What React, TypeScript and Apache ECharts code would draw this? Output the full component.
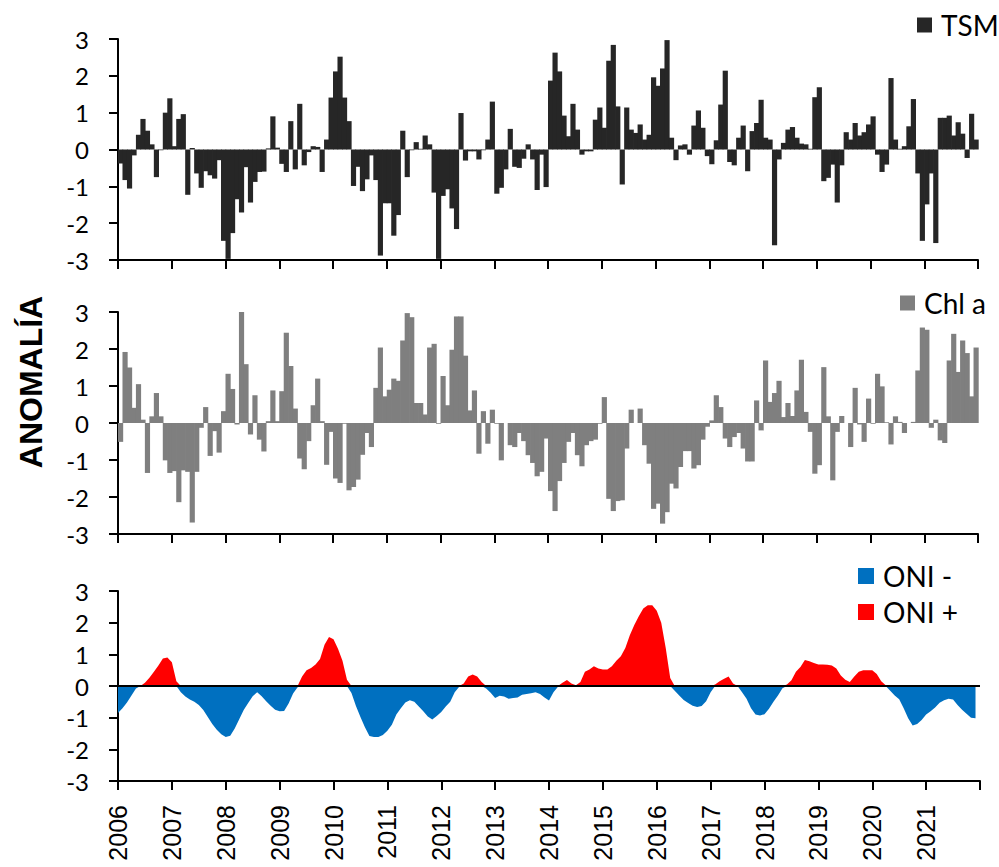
import React, { useEffect, useRef } from 'react';
import * as echarts from 'echarts';

const START_YEAR = 2006;
const N_MONTHS = 192;

// Monthly anomalies, Jan 2006 .. Dec 2021 (one row per year)
const TSM = [
  -0.38, -0.83, -1.06, -0.16, 0.4, 0.83, 0.51, 0.14, -0.75, -0.02, 1.0, 1.39,
  0.09, 0.83, 0.96, -1.23, 0.04, -0.65, -1.04, -0.59, -0.7, -0.79, -0.29, -2.48,
  -2.97, -2.27, -1.35, -1.71, -0.48, -1.44, -0.88, -0.61, -0.6, 0.03, 0.9, 0.05,
  -0.39, -0.61, 0.77, -0.54, 1.24, -0.43, -0.07, 0.09, 0.07, -0.61, 0.27, 1.41,
  2.12, 2.52, 1.41, 0.77, -0.99, -0.47, -1.13, -0.81, -0.16, -0.83, -2.88, -1.46,
  -1.46, -2.34, -1.78, 0.51, -0.75, -0.02, 0.2, 0.02, 0.38, 0.14, -1.17, -2.97,
  -1.26, -1.08, -1.6, -2.16, 0.99, -0.3, -0.05, -0.05, -0.27, -0.02, 0.27, 1.3,
  -1.2, -1.04, -0.54, 0.56, -0.47, -0.5, -0.25, 0.14, -0.27, -1.1, -0.14, -1.02,
  1.87, 2.63, 2.12, 0.92, 0.36, 1.24, 0.54, -0.14, -0.05, -0.05, 0.81, 1.14,
  0.59, 2.41, 2.84, 1.17, -0.95, 1.14, 0.54, 0.45, 0.68, 0.27, 0.4, 1.96,
  1.73, 2.2, 2.97, 0.32, -0.29, 0.11, 0.14, -0.14, 0.65, 1.06, 0.59, -0.18,
  -0.4, 0.25, 1.22, 2.14, -0.34, -0.43, 0.32, 0.65, -0.59, 0.5, 0.72, 1.35,
  0.32, 0.27, -2.6, -0.27, 0.18, 0.54, 0.61, 0.32, 0.16, 0.14, 0.02, 1.42,
  1.69, -0.86, -0.77, -0.41, -1.44, -0.43, 0.47, 0.27, 0.72, 0.38, 0.47, 0.68,
  0.9, -0.14, -0.61, -0.41, 1.94, 0.27, 0.02, 0.09, 0.63, 1.37, -0.65, -2.48,
  -1.49, -0.65, -2.54, 0.86, 0.86, 0.92, 0.38, 0.74, 0.43, -0.23, 0.97, 0.27,
];

const CHL = [
  -0.51, 1.92, 1.5, 0.41, 1.05, 0.09, -1.35, 0.18, 0.81, 0.18, -1.01, -1.35,
  -1.3, -2.14, -1.28, -1.32, -2.69, -1.32, -0.13, 0.43, -0.89, -0.22, -0.8, 0.32,
  1.33, 0.92, -0.04, 3.0, 1.59, -0.31, 0.75, -0.45, -0.77, 0.05, 0.88, 0.05,
  0.86, 2.44, 1.54, 0.39, -0.96, -1.25, -0.49, 0.48, 1.2, 0.05, -1.13, -0.24,
  -1.5, -1.62, -0.02, -1.82, -1.73, -1.53, -0.86, -0.27, -0.65, 0.95, 2.04, 0.72,
  0.9, 1.2, 1.14, 2.23, 2.97, 2.86, 0.54, 0.54, 0.23, 2.04, 2.14, -0.02,
  1.27, 0.48, 1.98, 2.88, 2.88, 1.82, 0.34, 0.88, -0.83, 0.32, -0.56, 0.36,
  -0.02, -1.01, 0.0, -0.6, -0.65, -0.27, -0.49, -0.87, -1.08, -1.44, -1.32, -0.42,
  -1.84, -2.38, -1.57, -1.08, -0.51, -0.27, -0.87, -1.17, -0.6, -0.49, -0.45, -0.02,
  0.7, -2.05, -2.38, -2.11, -2.09, -0.69, 0.36, 0.0, 0.39, -0.6, -1.1, -2.32,
  -2.18, -2.72, -2.41, -1.64, -1.77, -1.19, -0.76, -0.76, -1.23, -1.14, -0.45, -0.1,
  0.07, 0.75, 0.43, -0.42, -0.65, -0.38, -0.27, -0.69, -1.04, -1.04, 0.61, -0.2,
  1.69, 0.57, 0.81, 1.14, 0.16, 0.54, 0.19, 0.88, 1.71, 0.3, -0.24, -1.37,
  -1.14, 1.51, 0.18, -1.55, -0.24, 0.19, 0.0, -0.65, 0.95, -0.04, -0.51, 0.66,
  -0.02, 1.33, 0.99, 0.02, -0.58, 0.18, 0.03, -0.27, 0.0, 0.03, 1.42, 2.58,
  2.52, -0.13, 0.09, -0.47, -0.54, 1.69, 2.41, 1.38, 2.23, 1.89, 0.72, 2.04,
];

const ONI = [
  -0.85, -0.7, -0.52, -0.3, -0.08, 0.0, 0.1, 0.26, 0.45, 0.65, 0.87, 0.9,
  0.75, 0.15, -0.2, -0.33, -0.43, -0.5, -0.6, -0.76, -0.98, -1.2, -1.38, -1.52,
  -1.61, -1.57, -1.34, -1.05, -0.76, -0.54, -0.32, -0.2, -0.32, -0.48, -0.62, -0.75,
  -0.8, -0.79, -0.55, -0.24, -0.04, 0.3, 0.5, 0.57, 0.68, 0.85, 1.3, 1.55,
  1.48, 1.18, 0.8, 0.2, -0.22, -0.63, -0.98, -1.3, -1.58, -1.61, -1.61, -1.55,
  -1.41, -1.22, -0.9, -0.7, -0.52, -0.45, -0.5, -0.65, -0.8, -0.96, -1.06, -0.95,
  -0.82, -0.65, -0.5, -0.2, -0.02, 0.08, 0.3, 0.36, 0.3, 0.13, -0.08, -0.21,
  -0.38, -0.31, -0.33, -0.4, -0.38, -0.36, -0.28, -0.25, -0.23, -0.2, -0.25, -0.36,
  -0.46, -0.2, -0.02, 0.1, 0.19, 0.08, 0.02, 0.13, 0.45, 0.52, 0.62, 0.55,
  0.52, 0.52, 0.62, 0.8, 0.94, 1.2, 1.6, 1.93, 2.2, 2.45, 2.55, 2.55,
  2.38, 2.0, 1.2, 0.25, -0.15, -0.3, -0.44, -0.54, -0.62, -0.66, -0.63, -0.48,
  -0.2, 0.05, 0.15, 0.23, 0.3, 0.08, 0.0, -0.2, -0.4, -0.7, -0.9, -0.93,
  -0.89, -0.72, -0.5, -0.3, -0.07, 0.05, 0.18, 0.45, 0.6, 0.82, 0.78, 0.73,
  0.68, 0.68, 0.67, 0.65, 0.55, 0.33, 0.2, 0.13, 0.3, 0.45, 0.5, 0.5,
  0.5, 0.38, 0.15, 0.02, -0.15, -0.3, -0.42, -0.7, -1.02, -1.25, -1.2, -1.07,
  -0.9, -0.8, -0.68, -0.53, -0.45, -0.4, -0.43, -0.6, -0.75, -0.88, -1.0, -1.02,
];

const Y_MIN = -3;
const Y_MAX = 3;
const Y_STEP = 1;

const LABEL_FONT = 'Lato, "Open Sans", sans-serif';
const YEAR_FONT = '"Liberation Sans", Arial, sans-serif';

export default function App() {
  const ref = useRef<HTMLDivElement>(null);

  useEffect(() => {
    if (!ref.current) return;
    const chart = echarts.init(ref.current, undefined, { renderer: 'svg' });

    const grids = [
      { left: 118, top: 39, width: 860, height: 221 },
      { left: 118, top: 312, width: 860, height: 222 },
      { left: 118, top: 591, width: 862, height: 190 },
    ];

    const xAxes = grids.map((_, i) => ({
      type: 'value',
      gridIndex: i,
      min: 0,
      max: N_MONTHS,
      interval: 12,
      splitLine: { show: false },
      axisLine: { show: true, onZero: false, lineStyle: { color: '#000', width: 2 } },
      axisTick: { show: true, inside: false, length: 9, lineStyle: { color: '#000', width: 2 } },
      axisLabel: {
        show: i === 2,
        rotate: 90,
        margin: 24,
        color: '#000',
        fontSize: 25,
        fontFamily: YEAR_FONT,
        formatter: (v: number) => (v < N_MONTHS ? String(START_YEAR + v / 12) : ''),
      },
    }));

    const yAxes = grids.map((_, i) => ({
      type: 'value',
      gridIndex: i,
      min: Y_MIN,
      max: Y_MAX,
      interval: Y_STEP,
      splitLine: { show: false },
      axisLine: { show: true, onZero: false, lineStyle: { color: '#000', width: 2 } },
      axisTick: { show: true, inside: false, length: 9, lineStyle: { color: '#000', width: 2 } },
      axisLabel: { margin: 29, color: '#000', fontSize: 24, fontFamily: LABEL_FONT },
    }));

    // Month columns of zero gap (Excel style); each spans month i .. i+1 on the axis scale
    const columnRenderer = (fill: string) => (params: any, api: any) => {
      const i = api.value(0);
      const v = api.value(1);
      const p0 = api.coord([i, 0]);
      const p1 = api.coord([i + 1, v]);
      const y = Math.min(p0[1], p1[1]);
      const h = Math.abs(p1[1] - p0[1]);
      return {
        type: 'rect',
        shape: { x: p0[0], y, width: p1[0] - p0[0] + 0.7, height: h },
        style: { fill },
      };
    };

    const colData = (arr: number[]) => arr.map((v, i) => [i, v]);
    const legendText = { fontSize: 28, fontFamily: LABEL_FONT, color: '#000', padding: [0, 0, 0, 4] };

    chart.setOption({
      animation: false,
      backgroundColor: '#fff',
      grid: grids,
      xAxis: xAxes,
      yAxis: yAxes,
      legend: [
        {
          data: ['TSM'], left: 917, top: 11, padding: 0, icon: 'rect',
          itemWidth: 15, itemHeight: 15, textStyle: legendText, selectedMode: false,
        },
        {
          data: ['Chl a'], left: 900, top: 289, padding: 0, icon: 'rect',
          itemWidth: 15, itemHeight: 15, textStyle: legendText, selectedMode: false,
        },
        {
          data: ['ONI -', 'ONI +'], orient: 'vertical', left: 858, top: 562, padding: 0,
          itemGap: 8, icon: 'rect', itemWidth: 16, itemHeight: 16, textStyle: legendText,
          selectedMode: false,
        },
      ],
      graphic: [
        {
          type: 'text',
          x: 31,
          y: 382,
          rotation: Math.PI / 2,
          style: {
            text: 'ANOMALÍA',
            font: 'bold 32px "Liberation Sans", Arial, sans-serif',
            fill: '#000',
            textAlign: 'center',
            textVerticalAlign: 'middle',
            align: 'center',
            verticalAlign: 'middle',
          },
        },
      ],
      series: [
        {
          name: 'TSM', type: 'custom', xAxisIndex: 0, yAxisIndex: 0,
          data: colData(TSM), encode: { x: 0, y: 1 }, color: '#262626',
          itemStyle: { color: '#262626' },
          renderItem: columnRenderer('#262626'),
        },
        {
          name: 'Chl a', type: 'custom', xAxisIndex: 1, yAxisIndex: 1,
          data: colData(CHL), encode: { x: 0, y: 1 }, color: '#7f7f7f',
          itemStyle: { color: '#7f7f7f' },
          renderItem: columnRenderer('#7f7f7f'),
        },
        {
          name: 'ONI -', type: 'line', xAxisIndex: 2, yAxisIndex: 2,
          data: ONI.map((v, i) => [i, Math.min(v, 0)]),
          showSymbol: false, symbol: 'none', color: '#0070C0',
          itemStyle: { color: '#0070C0' },
          lineStyle: { width: 0, color: '#0070C0' },
          areaStyle: { color: '#0070C0', opacity: 1 },
          z: 2,
        },
        {
          name: 'ONI +', type: 'line', xAxisIndex: 2, yAxisIndex: 2,
          data: ONI.map((v, i) => [i, Math.max(v, 0)]),
          showSymbol: false, symbol: 'none', color: '#FF0000',
          itemStyle: { color: '#FF0000' },
          lineStyle: { width: 0, color: '#FF0000' },
          areaStyle: { color: '#FF0000', opacity: 1 },
          z: 2,
          markLine: {
            silent: true,
            symbol: ['none', 'none'],
            label: { show: false },
            lineStyle: { color: '#000', width: 2, type: 'solid' },
            data: [{ yAxis: 0 }],
          },
        },
      ],
    });

    return () => chart.dispose();
  }, []);

  return (
    <div
      ref={ref}
      style={{ position: 'absolute', left: 0, top: 0, width: 999, height: 867, background: '#fff' }}
    />
  );
}
